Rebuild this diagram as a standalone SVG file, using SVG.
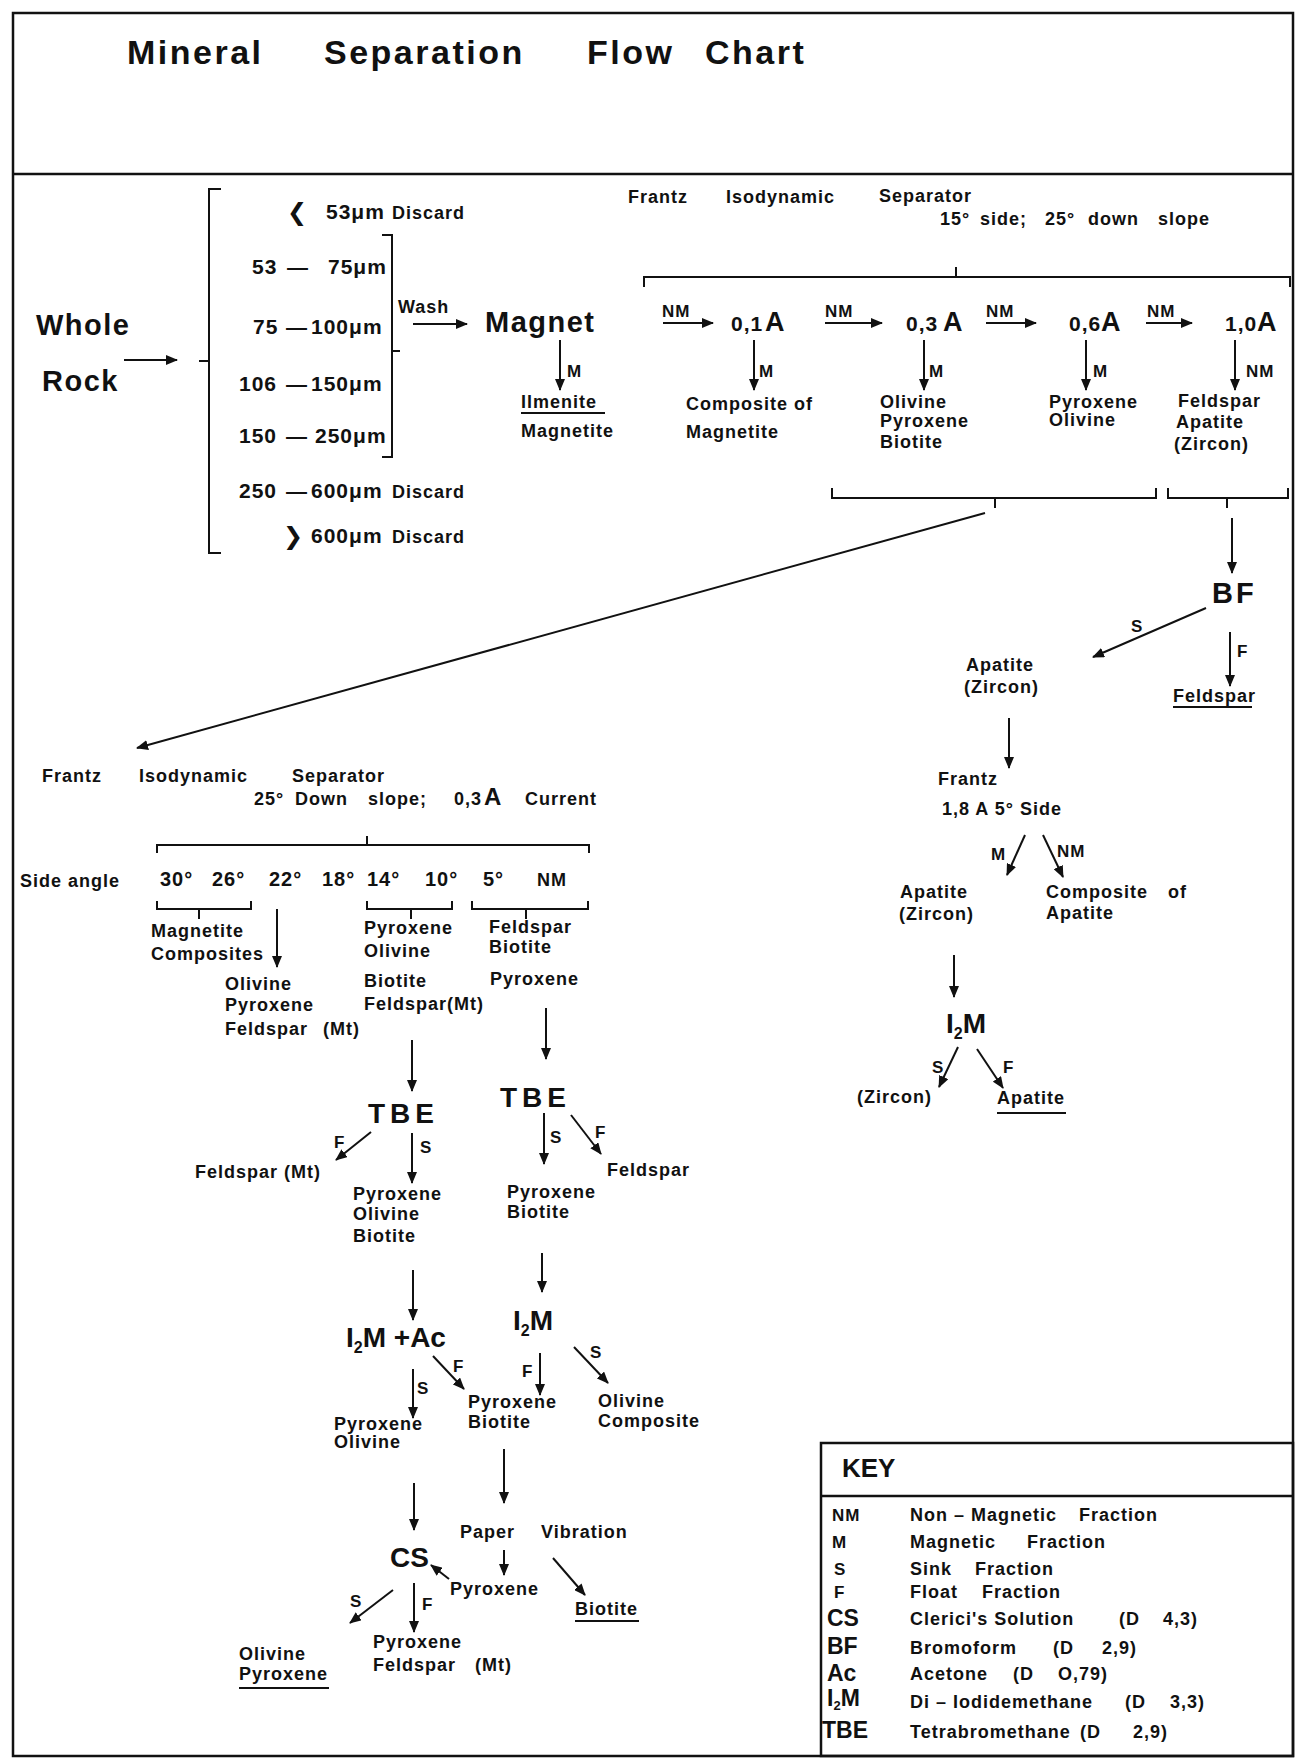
<svg xmlns="http://www.w3.org/2000/svg" width="1300" height="1763" viewBox="0 0 1300 1763">
<style>
text{font-family:"Liberation Sans",Arial,sans-serif;font-weight:bold;fill:#111;font-size:18px;letter-spacing:1px}
.ttl{font-size:34px;letter-spacing:2.5px}
.big{font-size:29px;letter-spacing:1.5px}
.num{font-size:21px}
.amp{font-size:27px}
.sm{font-size:17px}
.ang{font-size:20px}
.liq{font-size:28px;letter-spacing:4px}
.kab{font-size:23px;letter-spacing:0}
.sub{font-size:16px}
.ksub{font-size:13px}
.sym{font-family:"DejaVu Sans",sans-serif;font-size:24px}
.ln{stroke:#111;stroke-width:2;fill:none}
.ar{stroke:#111;stroke-width:2;fill:none;marker-end:url(#ah)}
.fr{stroke:#111;stroke-width:2.5;fill:none}
.dash{stroke:#111;stroke-width:3.5}
</style>
<defs>
<marker id="ah" markerWidth="12" markerHeight="10" refX="11" refY="5" orient="auto" markerUnits="userSpaceOnUse"><path d="M0,0 L12,5 L0,10 z" fill="#111"/></marker>
</defs>
<rect x="0" y="0" width="1300" height="1763" fill="#fff"/>
<g id="frame">
<rect class="fr" x="13" y="13" width="1280" height="1743"/>
<line class="fr" x1="13" y1="174" x2="1293" y2="174"/>
</g>
<g id="title">
<text class="ttl" x="127" y="64">Mineral</text>
<text class="ttl" x="324" y="64">Separation</text>
<text class="ttl" x="587" y="64">Flow</text>
<text class="ttl" x="705" y="64">Chart</text>
</g>
<g id="connectors">
<path class="ln" d="M221,189 H209 V553 H221 M199,361 H209"/>
<path class="ln" d="M382,235 H392 V457 H382 M392,351 H400"/>
<path class="ln" d="M644,287 V277 H1290 V287 M956,267 V277"/>
<path class="ln" d="M832,488 V498 H1156 V488 M995,498 V508"/>
<path class="ln" d="M1168,488 V498 H1288 V488 M1227,498 V508"/>
<path class="ln" d="M157,853 V845 H589 V853 M367,836 V845"/>
<path class="ln" d="M157,901 V909 H251 V901 M199,909 V919"/>
<path class="ln" d="M367,901 V909 H452 V901 M411,909 V919"/>
<path class="ln" d="M472,901 V909 H588 V901 M526,909 V919"/>
<line class="ar" x1="124" y1="360" x2="177" y2="360"/>
<line class="ar" x1="413" y1="324" x2="467" y2="324"/>
<line class="ar" x1="560" y1="340" x2="560" y2="390"/>
<line class="ar" x1="663" y1="323" x2="713" y2="323"/>
<line class="ar" x1="825" y1="323" x2="882" y2="323"/>
<line class="ar" x1="986" y1="323" x2="1036" y2="323"/>
<line class="ar" x1="1146" y1="323" x2="1192" y2="323"/>
<line class="ar" x1="754" y1="340" x2="754" y2="390"/>
<line class="ar" x1="924" y1="340" x2="924" y2="390"/>
<line class="ar" x1="1086" y1="340" x2="1086" y2="390"/>
<line class="ar" x1="1235" y1="340" x2="1235" y2="390"/>
<line class="ar" x1="985" y1="513" x2="137" y2="748"/>
<line class="ar" x1="1232" y1="518" x2="1232" y2="573"/>
<line class="ar" x1="1206" y1="608" x2="1093" y2="657"/>
<line class="ar" x1="1230" y1="632" x2="1230" y2="686"/>
<line class="ar" x1="1009" y1="718" x2="1009" y2="768"/>
<line class="ar" x1="1025" y1="835" x2="1007" y2="875"/>
<line class="ar" x1="1043" y1="835" x2="1063" y2="877"/>
<line class="ar" x1="954" y1="955" x2="954" y2="997"/>
<line class="ar" x1="958" y1="1047" x2="939" y2="1087"/>
<line class="ar" x1="977" y1="1049" x2="1003" y2="1088"/>
<line class="ar" x1="277" y1="909" x2="277" y2="967"/>
<line class="ar" x1="412" y1="1040" x2="412" y2="1091"/>
<line class="ar" x1="546" y1="1008" x2="546" y2="1059"/>
<line class="ar" x1="371" y1="1132" x2="336" y2="1160"/>
<line class="ar" x1="412" y1="1133" x2="412" y2="1183"/>
<line class="ar" x1="544" y1="1113" x2="544" y2="1164"/>
<line class="ar" x1="571" y1="1115" x2="601" y2="1154"/>
<line class="ar" x1="413" y1="1270" x2="413" y2="1320"/>
<line class="ar" x1="542" y1="1253" x2="542" y2="1292"/>
<line class="ar" x1="413" y1="1369" x2="413" y2="1418"/>
<line class="ar" x1="433" y1="1356" x2="464" y2="1389"/>
<line class="ar" x1="540" y1="1353" x2="540" y2="1395"/>
<line class="ar" x1="574" y1="1347" x2="608" y2="1383"/>
<line class="ar" x1="504" y1="1449" x2="504" y2="1503"/>
<line class="ar" x1="414" y1="1483" x2="414" y2="1530"/>
<line class="ar" x1="449" y1="1579" x2="431" y2="1565"/>
<line class="ar" x1="504" y1="1550" x2="504" y2="1575"/>
<line class="ar" x1="553" y1="1558" x2="585" y2="1595"/>
<line class="ar" x1="393" y1="1590" x2="350" y2="1623"/>
<line class="ar" x1="414" y1="1583" x2="414" y2="1632"/>
</g>
<g id="n-wholerock">
<text class="big" x="36" y="335">Whole</text>
<text class="big" x="42" y="391">Rock</text>
</g>
<g id="n-sizes">
<text class="sym" x="287" y="220">❮</text>
<text class="num" x="326" y="219">53μm</text><text x="392" y="219">Discard</text>
<text class="num" x="252" y="274">53</text><text class="num" x="287" y="274">—</text><text class="num" x="328" y="274">75μm</text>
<text class="num" x="253" y="334">75</text><text class="num" x="286" y="334">—</text><text class="num" x="311" y="334">100μm</text>
<text class="num" x="239" y="391">106</text><text class="num" x="286" y="391">—</text><text class="num" x="311" y="391">150μm</text>
<text class="num" x="239" y="443">150</text><text class="num" x="286" y="443">—</text><text class="num" x="315" y="443">250μm</text>
<text class="num" x="239" y="498">250</text><text class="num" x="286" y="498">—</text><text class="num" x="311" y="498">600μm</text><text x="392" y="498">Discard</text>
<text class="sym" x="283" y="544">❯</text>
<text class="num" x="311" y="543">600μm</text><text x="392" y="543">Discard</text>
</g>
<g id="n-wash"><text x="398" y="313">Wash</text></g>
<g id="n-magnet">
<text class="big" x="485" y="332">Magnet</text>
<text class="sm" x="567" y="377">M</text>
<text x="521" y="408">Ilmenite</text>
<line class="ln" x1="521" y1="413" x2="605" y2="413"/>
<text x="521" y="437">Magnetite</text>
</g>
<g id="n-frantz1">
<text x="628" y="203">Frantz</text>
<text x="726" y="203">Isodynamic</text>
<text x="879" y="202">Separator</text>
<text x="940" y="225">15°</text><text x="980" y="225">side;</text>
<text x="1045" y="225">25°</text><text x="1088" y="225">down</text><text x="1158" y="225">slope</text>
</g>
<g id="n-amps">
<text class="sm" x="662" y="317">NM</text>
<text class="sm" x="825" y="317">NM</text>
<text class="sm" x="986" y="317">NM</text>
<text class="sm" x="1147" y="317">NM</text>
<text class="num" x="731" y="331">0,1</text><text class="amp" x="765" y="331">A</text>
<text class="num" x="906" y="331">0,3</text><text class="amp" x="943" y="331">A</text>
<text class="num" x="1069" y="331">0,6</text><text class="amp" x="1101" y="331">A</text>
<text class="num" x="1225" y="331">1,0</text><text class="amp" x="1257" y="331">A</text>
<text class="sm" x="759" y="377">M</text>
<text class="sm" x="929" y="377">M</text>
<text class="sm" x="1093" y="377">M</text>
<text class="sm" x="1246" y="377">NM</text>
</g>
<g id="n-fractions1">
<text x="686" y="410">Composite of</text>
<text x="686" y="438">Magnetite</text>
<text x="880" y="408">Olivine</text>
<text x="880" y="427">Pyroxene</text>
<text x="880" y="448">Biotite</text>
<text x="1049" y="408">Pyroxene</text>
<text x="1049" y="426">Olivine</text>
<text x="1178" y="407">Feldspar</text>
<text x="1176" y="428">Apatite</text>
<text x="1174" y="450">(Zircon)</text>
</g>
<g id="n-bf">
<text class="big" x="1212" y="603" style="letter-spacing:3px">BF</text>
<text class="sm" x="1131" y="632">S</text>
<text class="sm" x="1237" y="657">F</text>
<text x="1173" y="702">Feldspar</text>
<line class="ln" x1="1173" y1="707" x2="1252" y2="707"/>
<text x="966" y="671">Apatite</text>
<text x="964" y="693">(Zircon)</text>
</g>
<g id="n-frantz3">
<text x="938" y="785">Frantz</text>
<text x="942" y="815">1,8  A 5° Side</text>
<text class="sm" x="991" y="860">M</text>
<text class="sm" x="1057" y="857">NM</text>
<text x="900" y="898">Apatite</text>
<text x="899" y="920">(Zircon)</text>
<text x="1046" y="898">Composite</text><text x="1168" y="898">of</text>
<text x="1046" y="919">Apatite</text>
</g>
<g id="n-i2m-apatite">
<text class="liq" x="946" y="1033" style="letter-spacing:0">I<tspan class="sub" dy="6">2</tspan><tspan dy="-6">M</tspan></text>
<text class="sm" x="932" y="1073">S</text>
<text class="sm" x="1003" y="1073">F</text>
<text x="857" y="1103">(Zircon)</text>
<text x="997" y="1104">Apatite</text>
<line class="ln" x1="997" y1="1113" x2="1066" y2="1113"/>
</g>
<g id="n-frantz2">
<text x="42" y="782">Frantz</text>
<text x="139" y="782">Isodynamic</text>
<text x="292" y="782">Separator</text>
<text x="254" y="805">25°</text><text x="295" y="805">Down</text><text x="368" y="805">slope;</text>
<text x="454" y="805">0,3</text><text class="amp" x="484" y="805" style="font-size:24px">A</text><text x="525" y="805">Current</text>
<text x="20" y="887">Side angle</text>
<text class="ang" x="160" y="886">30°</text>
<text class="ang" x="212" y="886">26°</text>
<text class="ang" x="269" y="886">22°</text>
<text class="ang" x="322" y="886">18°</text>
<text class="ang" x="367" y="886">14°</text>
<text class="ang" x="425" y="886">10°</text>
<text class="ang" x="483" y="886">5°</text>
<text x="537" y="886">NM</text>
</g>
<g id="n-fractions2">
<text x="151" y="937">Magnetite</text>
<text x="151" y="960">Composites</text>
<text x="225" y="990">Olivine</text>
<text x="225" y="1011">Pyroxene</text>
<text x="225" y="1035">Feldspar</text><text x="323" y="1035">(Mt)</text>
<text x="364" y="934">Pyroxene</text>
<text x="364" y="957">Olivine</text>
<text x="364" y="987">Biotite</text>
<text x="364" y="1010">Feldspar(Mt)</text>
<text x="489" y="933">Feldspar</text>
<text x="489" y="953">Biotite</text>
<text x="490" y="985">Pyroxene</text>
</g>
<g id="n-tbe-left">
<text class="liq" x="368" y="1123" style="letter-spacing:5px">TBE</text>
<text class="sm" x="334" y="1148">F</text>
<text class="sm" x="420" y="1153">S</text>
<text x="195" y="1178">Feldspar (Mt)</text>
<text x="353" y="1200">Pyroxene</text>
<text x="353" y="1220">Olivine</text>
<text x="353" y="1242">Biotite</text>
</g>
<g id="n-tbe-right">
<text class="liq" x="500" y="1107" style="letter-spacing:5px">TBE</text>
<text class="sm" x="550" y="1143">S</text>
<text class="sm" x="595" y="1138">F</text>
<text x="607" y="1176">Feldspar</text>
<text x="507" y="1198">Pyroxene</text>
<text x="507" y="1218">Biotite</text>
</g>
<g id="n-i2m-ac">
<text class="liq" x="346" y="1347" style="letter-spacing:0">I<tspan class="sub" dy="6">2</tspan><tspan dy="-6">M +Ac</tspan></text>
<text class="sm" x="417" y="1394">S</text>
<text class="sm" x="453" y="1372">F</text>
<text x="334" y="1430">Pyroxene</text>
<text x="334" y="1448">Olivine</text>
<text x="468" y="1408">Pyroxene</text>
<text x="468" y="1428">Biotite</text>
</g>
<g id="n-i2m-right">
<text class="liq" x="513" y="1330" style="letter-spacing:0">I<tspan class="sub" dy="6">2</tspan><tspan dy="-6">M</tspan></text>
<text class="sm" x="522" y="1377">F</text>
<text class="sm" x="590" y="1358">S</text>
<text x="598" y="1407">Olivine</text>
<text x="598" y="1427">Composite</text>
</g>
<g id="n-paper">
<text x="460" y="1538">Paper</text>
<text x="541" y="1538">Vibration</text>
<text x="450" y="1595">Pyroxene</text>
<text x="575" y="1615">Biotite</text>
<line class="ln" x1="575" y1="1621" x2="639" y2="1621"/>
</g>
<g id="n-cs">
<text class="liq" x="390" y="1567" style="letter-spacing:0">CS</text>
<text class="sm" x="350" y="1607">S</text>
<text class="sm" x="422" y="1610">F</text>
<text x="373" y="1648">Pyroxene</text>
<text x="373" y="1671">Feldspar</text><text x="475" y="1671">(Mt)</text>
<text x="239" y="1660">Olivine</text>
<text x="239" y="1680">Pyroxene</text>
<line class="ln" x1="239" y1="1688" x2="329" y2="1688"/>
</g>
<g id="key">
<rect class="fr" x="821" y="1443" width="472" height="313"/>
<line class="fr" x1="821" y1="1496" x2="1293" y2="1496"/>
<text class="kab" x="842" y="1477" style="font-size:26px">KEY</text>
<text class="sm" x="832" y="1521">NM</text><text x="910" y="1521">Non – Magnetic</text><text x="1079" y="1521">Fraction</text>
<text class="sm" x="832" y="1548">M</text><text x="910" y="1548">Magnetic</text><text x="1027" y="1548">Fraction</text>
<text class="sm" x="834" y="1575">S</text><text x="910" y="1575">Sink</text><text x="975" y="1575">Fraction</text>
<text class="sm" x="834" y="1598">F</text><text x="910" y="1598">Float</text><text x="982" y="1598">Fraction</text>
<text class="kab" x="827" y="1626">CS</text><text x="910" y="1625">Clerici's Solution</text><text x="1119" y="1625">(D</text><text x="1163" y="1625">4,3)</text>
<text class="kab" x="827" y="1654">BF</text><text x="910" y="1654">Bromoform</text><text x="1053" y="1654">(D</text><text x="1102" y="1654">2,9)</text>
<text class="kab" x="827" y="1681">Ac</text><text x="910" y="1680">Acetone</text><text x="1013" y="1680">(D</text><text x="1058" y="1680">O,79)</text>
<text class="kab" x="827" y="1706">I<tspan class="ksub" dy="4">2</tspan><tspan dy="-4">M</tspan></text><text x="910" y="1708">Di – Iodidemethane</text><text x="1125" y="1708">(D</text><text x="1170" y="1708">3,3)</text>
<text class="kab" x="822" y="1738">TBE</text><text x="910" y="1738">Tetrabromethane</text><text x="1080" y="1738">(D</text><text x="1133" y="1738">2,9)</text>
</g>
</svg>
